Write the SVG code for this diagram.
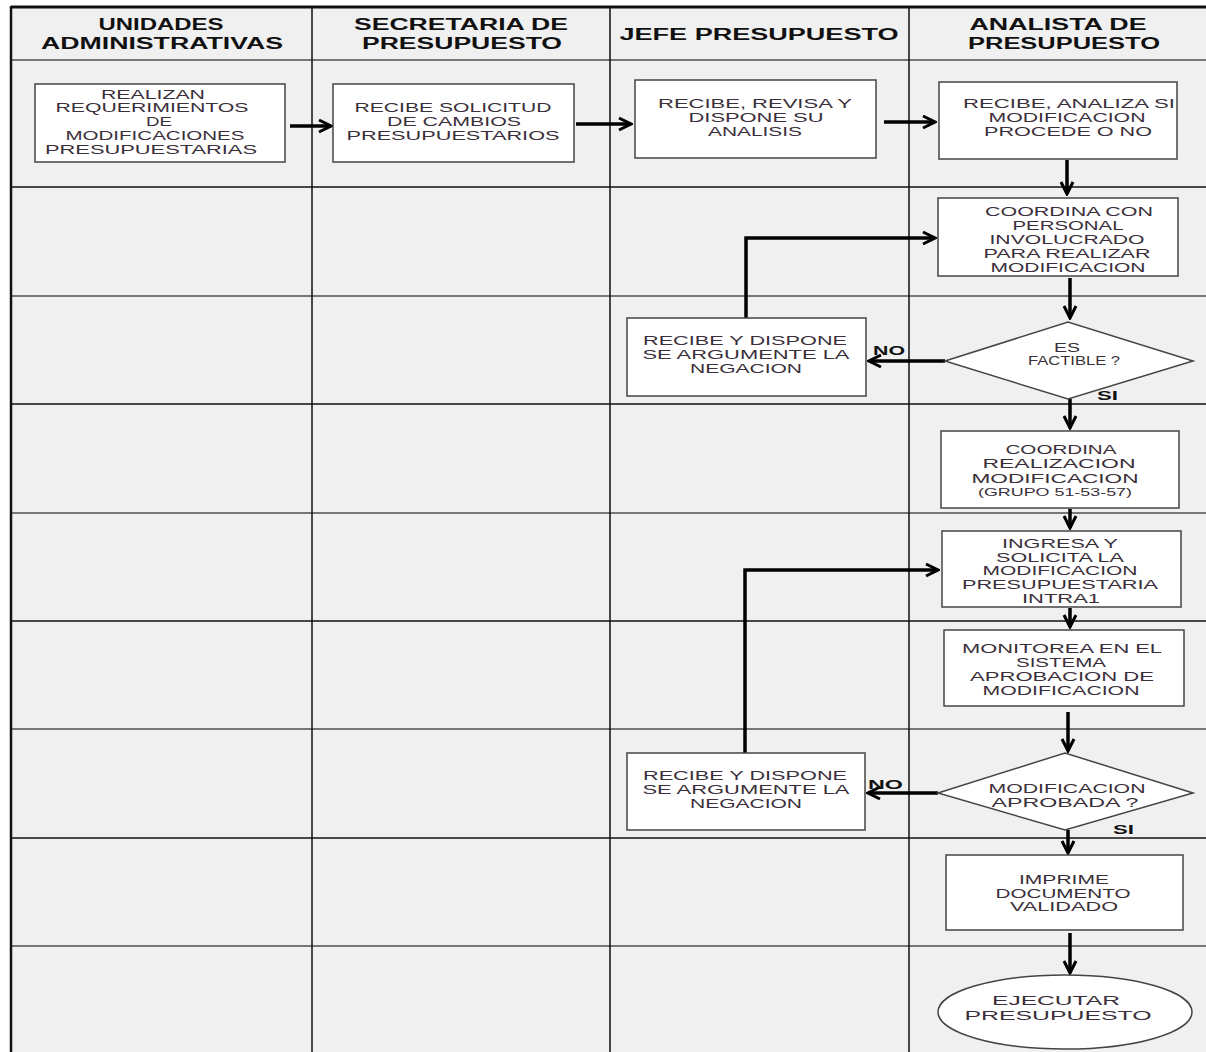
<svg xmlns="http://www.w3.org/2000/svg" width="1206" height="1052" viewBox="0 0 1206 1052">
<style>
.hd{font-family:"Liberation Sans",Arial,sans-serif;font-weight:bold;font-size:16px;fill:#111;text-anchor:middle}
.t{font-family:"Liberation Sans",Arial,sans-serif;font-size:13.5px;fill:#3a2f3a;text-anchor:middle}
.s{font-family:"Liberation Sans",Arial,sans-serif;font-size:10px;fill:#3a2f3a;text-anchor:middle}
.lb{font-family:"Liberation Sans",Arial,sans-serif;font-weight:bold;font-size:13px;fill:#111}
.box{fill:#fff;stroke:#444;stroke-width:1.5}
.gl{stroke:#777;stroke-width:2}
.bl{stroke:#111;stroke-width:1.5}
.cn{fill:none;stroke:#000;stroke-width:3.5}
</style>
<defs>
<marker id="ah" viewBox="0 0 16 16" refX="14" refY="8" markerWidth="16" markerHeight="16" markerUnits="userSpaceOnUse" orient="auto">
<path d="M2,2 L14,8 L2,14" fill="none" stroke="#000" stroke-width="3"/>
</marker>
</defs>
<rect x="0" y="0" width="1206" height="1052" fill="#fff"/>
<g id="grid">
<rect x="11" y="7" width="1195" height="1045" fill="#f0f0f0"/>
<line class="gl" x1="11" y1="60" x2="1206" y2="60"/>
<line class="bl" x1="11" y1="187" x2="1206" y2="187"/>
<line class="gl" x1="11" y1="296" x2="1206" y2="296"/>
<line class="bl" x1="11" y1="404" x2="1206" y2="404"/>
<line class="gl" x1="11" y1="513" x2="1206" y2="513"/>
<line class="bl" x1="11" y1="621" x2="1206" y2="621"/>
<line class="gl" x1="11" y1="729" x2="1206" y2="729"/>
<line class="bl" x1="11" y1="838" x2="1206" y2="838"/>
<line class="gl" x1="11" y1="946" x2="1206" y2="946"/>
<line class="bl" x1="312" y1="7" x2="312" y2="1052"/>
<line class="bl" x1="610" y1="7" x2="610" y2="1052"/>
<line class="bl" x1="909" y1="7" x2="909" y2="1052"/>
<line x1="11" y1="7" x2="1206" y2="7" stroke="#111" stroke-width="3"/>
<line x1="11" y1="6" x2="11" y2="1052" stroke="#111" stroke-width="2.5"/>
</g>
<g id="headers">
<text class="hd" x="161" y="30" textLength="125" lengthAdjust="spacingAndGlyphs">UNIDADES</text>
<text class="hd" x="162" y="49" textLength="242" lengthAdjust="spacingAndGlyphs">ADMINISTRATIVAS</text>
<text class="hd" x="461" y="30" textLength="214" lengthAdjust="spacingAndGlyphs">SECRETARIA DE</text>
<text class="hd" x="462" y="49" textLength="200" lengthAdjust="spacingAndGlyphs">PRESUPUESTO</text>
<text class="hd" x="759" y="40" textLength="279" lengthAdjust="spacingAndGlyphs">JEFE PRESUPUESTO</text>
<text class="hd" x="1058" y="30" textLength="177" lengthAdjust="spacingAndGlyphs">ANALISTA DE</text>
<text class="hd" x="1064" y="49" textLength="192" lengthAdjust="spacingAndGlyphs">PRESUPUESTO</text>
</g>
<g id="connectors">
<path class="cn" d="M290,126 H331" marker-end="url(#ah)"/>
<path class="cn" d="M576,124 H631" marker-end="url(#ah)"/>
<path class="cn" d="M884,122 H935" marker-end="url(#ah)"/>
<path class="cn" d="M1067,160 V194" marker-end="url(#ah)"/>
<path class="cn" d="M1070,278 V318" marker-end="url(#ah)"/>
<path class="cn" d="M945,361 H869" marker-end="url(#ah)"/>
<path class="cn" d="M746,318 V238 H935" marker-end="url(#ah)"/>
<path class="cn" d="M1070,399 V428" marker-end="url(#ah)"/>
<path class="cn" d="M1070,509 V528" marker-end="url(#ah)"/>
<path class="cn" d="M1070,608 V627" marker-end="url(#ah)"/>
<path class="cn" d="M1068,712 V751" marker-end="url(#ah)"/>
<path class="cn" d="M938,793 H868" marker-end="url(#ah)"/>
<path class="cn" d="M745,753 V570 H938" marker-end="url(#ah)"/>
<path class="cn" d="M1068,830 V853" marker-end="url(#ah)"/>
<path class="cn" d="M1070,933 V973" marker-end="url(#ah)"/>
<text class="lb" x="873" y="355" textLength="32" lengthAdjust="spacingAndGlyphs">NO</text>
<text class="lb" x="1097" y="400" textLength="21" lengthAdjust="spacingAndGlyphs">SI</text>
<text class="lb" x="868" y="789" textLength="35" lengthAdjust="spacingAndGlyphs">NO</text>
<text class="lb" x="1113" y="834" textLength="21" lengthAdjust="spacingAndGlyphs">SI</text>
</g>
<g id="n1">
<rect class="box" x="35" y="84" width="250" height="78"/>
<text class="t" x="153" y="99" textLength="104" lengthAdjust="spacingAndGlyphs">REALIZAN</text>
<text class="t" x="152" y="112" textLength="193" lengthAdjust="spacingAndGlyphs">REQUERIMIENTOS</text>
<text class="t" x="159" y="126" textLength="26" lengthAdjust="spacingAndGlyphs">DE</text>
<text class="t" x="155" y="140" textLength="179" lengthAdjust="spacingAndGlyphs">MODIFICACIONES</text>
<text class="t" x="151" y="154" textLength="212" lengthAdjust="spacingAndGlyphs">PRESUPUESTARIAS</text>
</g>
<g id="n2">
<rect class="box" x="333" y="84" width="241" height="78"/>
<text class="t" x="453" y="112" textLength="197" lengthAdjust="spacingAndGlyphs">RECIBE SOLICITUD</text>
<text class="t" x="454" y="126" textLength="134" lengthAdjust="spacingAndGlyphs">DE CAMBIOS</text>
<text class="t" x="453" y="140" textLength="213" lengthAdjust="spacingAndGlyphs">PRESUPUESTARIOS</text>
</g>
<g id="n3">
<rect class="box" x="635" y="80" width="241" height="78"/>
<text class="t" x="755" y="108" textLength="194" lengthAdjust="spacingAndGlyphs">RECIBE, REVISA Y</text>
<text class="t" x="756" y="122" textLength="135" lengthAdjust="spacingAndGlyphs">DISPONE SU</text>
<text class="t" x="755" y="136" textLength="94" lengthAdjust="spacingAndGlyphs">ANALISIS</text>
</g>
<g id="n4">
<rect class="box" x="939" y="82" width="238" height="77"/>
<text class="t" x="1069" y="108" textLength="212" lengthAdjust="spacingAndGlyphs">RECIBE, ANALIZA SI</text>
<text class="t" x="1067" y="122" textLength="157" lengthAdjust="spacingAndGlyphs">MODIFICACION</text>
<text class="t" x="1068" y="136" textLength="168" lengthAdjust="spacingAndGlyphs">PROCEDE O NO</text>
</g>
<g id="n5">
<rect class="box" x="938" y="198" width="240" height="78"/>
<text class="t" x="1069" y="216" textLength="168" lengthAdjust="spacingAndGlyphs">COORDINA  CON</text>
<text class="t" x="1068" y="230" textLength="111" lengthAdjust="spacingAndGlyphs">PERSONAL</text>
<text class="t" x="1067" y="244" textLength="155" lengthAdjust="spacingAndGlyphs">INVOLUCRADO</text>
<text class="t" x="1067" y="258" textLength="167" lengthAdjust="spacingAndGlyphs">PARA REALIZAR</text>
<text class="t" x="1068" y="272" textLength="155" lengthAdjust="spacingAndGlyphs">MODIFICACION</text>
</g>
<g id="n6">
<polygon class="box" points="945,361 1068,322 1193,361 1068,399"/>
<text class="t" x="1067" y="352" textLength="26" lengthAdjust="spacingAndGlyphs">ES</text>
<text class="t" x="1074" y="365" textLength="92" lengthAdjust="spacingAndGlyphs">FACTIBLE  ?</text>
</g>
<g id="n7">
<rect class="box" x="627" y="318" width="239" height="78"/>
<text class="t" x="745" y="345" textLength="204" lengthAdjust="spacingAndGlyphs">RECIBE Y DISPONE</text>
<text class="t" x="746" y="359" textLength="207" lengthAdjust="spacingAndGlyphs">SE ARGUMENTE  LA</text>
<text class="t" x="746" y="373" textLength="112" lengthAdjust="spacingAndGlyphs">NEGACION</text>
</g>
<g id="n8">
<rect class="box" x="941" y="431" width="238" height="77"/>
<text class="t" x="1061" y="454" textLength="111" lengthAdjust="spacingAndGlyphs">COORDINA</text>
<text class="t" x="1059" y="468" textLength="153" lengthAdjust="spacingAndGlyphs">REALIZACION</text>
<text class="t" x="1055" y="483" textLength="167" lengthAdjust="spacingAndGlyphs">MODIFICACION</text>
<text class="s" x="1055" y="495.5" textLength="154" lengthAdjust="spacingAndGlyphs">(GRUPO 51-53-57)</text>
</g>
<g id="n9">
<rect class="box" x="942" y="531" width="239" height="76"/>
<text class="t" x="1060" y="548" textLength="116" lengthAdjust="spacingAndGlyphs">INGRESA  Y</text>
<text class="t" x="1060" y="562" textLength="128" lengthAdjust="spacingAndGlyphs">SOLICITA  LA</text>
<text class="t" x="1060" y="575" textLength="155" lengthAdjust="spacingAndGlyphs">MODIFICACION</text>
<text class="t" x="1060" y="589" textLength="196" lengthAdjust="spacingAndGlyphs">PRESUPUESTARIA</text>
<text class="t" x="1061" y="603" textLength="78" lengthAdjust="spacingAndGlyphs">INTRA1</text>
</g>
<g id="n10">
<rect class="box" x="944" y="630" width="240" height="76"/>
<text class="t" x="1062" y="653" textLength="200" lengthAdjust="spacingAndGlyphs">MONITOREA  EN  EL</text>
<text class="t" x="1061" y="667" textLength="90" lengthAdjust="spacingAndGlyphs">SISTEMA</text>
<text class="t" x="1062" y="681" textLength="184" lengthAdjust="spacingAndGlyphs">APROBACION  DE</text>
<text class="t" x="1061" y="695" textLength="157" lengthAdjust="spacingAndGlyphs">MODIFICACION</text>
</g>
<g id="n11">
<polygon class="box" points="938,793 1065,753 1193,793 1065,830"/>
<text class="t" x="1067" y="793" textLength="157" lengthAdjust="spacingAndGlyphs">MODIFICACION</text>
<text class="t" x="1065" y="807" textLength="147" lengthAdjust="spacingAndGlyphs">APROBADA ?</text>
</g>
<g id="n12">
<rect class="box" x="627" y="753" width="238" height="77"/>
<text class="t" x="745" y="780" textLength="204" lengthAdjust="spacingAndGlyphs">RECIBE Y DISPONE</text>
<text class="t" x="746" y="794" textLength="207" lengthAdjust="spacingAndGlyphs">SE ARGUMENTE  LA</text>
<text class="t" x="746" y="808" textLength="112" lengthAdjust="spacingAndGlyphs">NEGACION</text>
</g>
<g id="n13">
<rect class="box" x="946" y="855" width="237" height="75"/>
<text class="t" x="1064" y="884" textLength="90" lengthAdjust="spacingAndGlyphs">IMPRIME</text>
<text class="t" x="1063" y="898" textLength="135" lengthAdjust="spacingAndGlyphs">DOCUMENTO</text>
<text class="t" x="1064" y="911" textLength="108" lengthAdjust="spacingAndGlyphs">VALIDADO</text>
</g>
<g id="n14">
<ellipse class="box" cx="1065" cy="1012" rx="127" ry="37"/>
<text class="t" x="1056" y="1005" textLength="128" lengthAdjust="spacingAndGlyphs">EJECUTAR</text>
<text class="t" x="1058" y="1020" textLength="187" lengthAdjust="spacingAndGlyphs">PRESUPUESTO</text>
</g>
</svg>
